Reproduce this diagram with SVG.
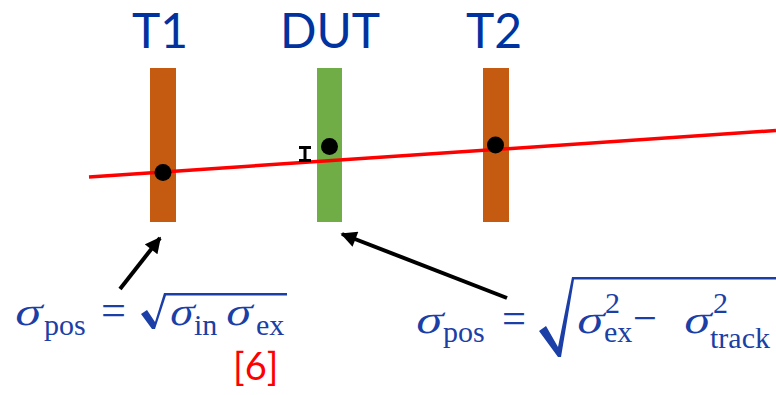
<svg xmlns="http://www.w3.org/2000/svg" width="776" height="395" viewBox="0 0 776 395">
<defs>
<style>
.title{font-family:Lato,"Liberation Sans",sans-serif;font-size:48px;fill:#0033a0;text-anchor:middle}
.m{font-family:"Liberation Serif",serif;fill:#1b3fa6}
.it{font-size:40px}
.big{font-size:44px}
.sub{font-size:30px}
.ref{font-family:Lato,"Liberation Sans",sans-serif;font-size:38px;fill:#ff0000}
.arrow{stroke:#000;stroke-width:4;fill:none;marker-end:url(#ah)}
.rad{fill:#1b3fa6}
</style>
<marker id="ah" viewBox="0 0 10 10" refX="9" refY="5" markerWidth="4.5" markerHeight="4" orient="auto" markerUnits="strokeWidth">
<path d="M0,0 L10,5 L0,10 z" fill="#000"/>
</marker>
</defs>
<rect width="776" height="395" fill="#fff"/>
<g id="T1">
<text class="title" x="160" y="48">T1</text>
<rect x="150" y="68" width="26" height="154" fill="#c55a11"/>
</g>
<g id="DUT">
<text class="title" x="330" y="48">DUT</text>
<rect x="317" y="68" width="25" height="154" fill="#70ad47"/>
</g>
<g id="T2">
<text class="title" x="494" y="48">T2</text>
<rect x="483" y="68" width="26" height="154" fill="#c55a11"/>
</g>
<g id="track">
<line x1="89" y1="177" x2="776" y2="130.5" stroke="#ff0000" stroke-width="3.5"/>
<circle cx="163" cy="172.5" r="8.5" fill="#000"/>
<circle cx="329.5" cy="146.5" r="8.5" fill="#000"/>
<circle cx="495.5" cy="145" r="8.5" fill="#000"/>
<g id="errorbar" fill="#000">
<rect x="303.5" y="147" width="3" height="14"/>
<rect x="299" y="146" width="12" height="3"/>
<rect x="299" y="159" width="12" height="3"/>
</g>
</g>
<g id="connectors">
<line class="arrow" x1="120" y1="289" x2="160" y2="238"/>
<line class="arrow" x1="507" y1="298" x2="342" y2="234"/>
</g>
<g id="formula-left" class="m">
<text class="it" transform="translate(13,325) skewX(-14)" textLength="27" lengthAdjust="spacingAndGlyphs">σ</text>
<text class="sub" x="44" y="335">pos</text>
<text class="big" x="101" y="325" textLength="25" lengthAdjust="spacingAndGlyphs">=</text>
<text class="it" transform="translate(168,325) skewX(-14)" textLength="24" lengthAdjust="spacingAndGlyphs">σ</text>
<text class="sub" x="194" y="335">in</text>
<text class="it" transform="translate(224,325) skewX(-14)" textLength="26" lengthAdjust="spacingAndGlyphs">σ</text>
<text class="sub" x="256" y="335">ex</text>
<path class="rad" d="M141,314 L147,310 L155,322 L164,293 L287,293 L287,295.5 L166,295.5 L155,329 L152,329 Z"/>
<text class="ref" x="233" y="380">[6]</text>
</g>
<g id="formula-right" class="m">
<text class="it" transform="translate(414,333) skewX(-14)" textLength="27" lengthAdjust="spacingAndGlyphs">σ</text>
<text class="sub" x="443" y="342">pos</text>
<text class="big" x="502" y="333" textLength="24" lengthAdjust="spacingAndGlyphs">=</text>
<text class="it" transform="translate(575,333) skewX(-14)" textLength="27" lengthAdjust="spacingAndGlyphs">σ</text>
<text class="sub" x="605" y="313">2</text>
<text class="sub" x="604" y="342">ex</text>
<text class="big" x="633" y="333" textLength="24" lengthAdjust="spacingAndGlyphs">−</text>
<text class="it" transform="translate(682,333) skewX(-14)" textLength="27" lengthAdjust="spacingAndGlyphs">σ</text>
<text class="sub" x="713" y="313">2</text>
<text class="sub" x="710" y="348">track</text>
<path class="rad" d="M539,331 L546,326 L558,347 L572,277 L776,277 L776,279.5 L574,279.5 L561,357 L558,357 Z"/>
</g>
</svg>
